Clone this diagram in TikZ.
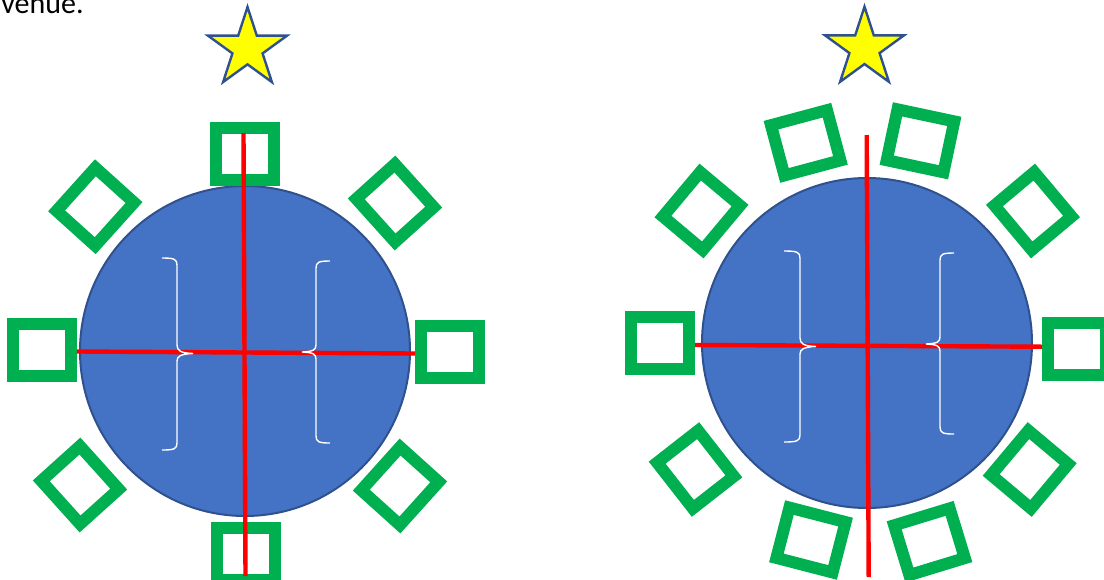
\documentclass[tikz,border=0pt]{standalone}
\usepackage{fontspec}
\setmainfont{Carlito}
\usetikzlibrary{shapes.geometric}

\definecolor{seatgreen}{HTML}{00B050}
\definecolor{tableblue}{HTML}{4472C4}
\definecolor{tableedge}{HTML}{2F528F}
\definecolor{staryellow}{HTML}{FFFF00}

\tikzstyle{seat} = [rectangle, draw=seatgreen, line width=6pt, minimum width=29pt, minimum height=26pt, inner sep=0pt]
\tikzstyle{table} = [circle, fill=tableblue, draw=tableedge, line width=1pt, minimum size=165pt, inner sep=0pt]
\tikzstyle{goal} = [star, star points=5, star point ratio=2.618, minimum size=41.5pt, inner sep=0pt, fill=staryellow, draw=tableedge, line width=1.2pt]
\tikzstyle{axis} = [draw=red, line width=2.2pt]
\tikzstyle{bracket} = [draw=white, line width=0.7pt]

\begin{document}
\begin{tikzpicture}[x=0.5pt, y=-0.5pt]
\useasboundingbox (0,0) rectangle (1104,579);

\node[anchor=base west, inner xsep=0pt, font=\fontsize{15}{18}\selectfont] (note) at (1,13) {venue.};

% eight seats
\node[table] (lefttable) at (245,351) {};
\node[goal] (leftstar) at (247.5,48.5) {};
\node[seat] (l1) at (244.5,153.5) {};
\node[seat, rotate=-48] (l2) at (395,203) {};
\node[seat] (l3) at (450,352) {};
\node[seat, rotate=48] (l4) at (400,486) {};
\node[seat] (l5) at (246,553.5) {};
\node[seat, rotate=-48] (l6) at (80,485) {};
\node[seat] (l7) at (42,349.5) {};
\node[seat, rotate=48] (l8) at (95.3,206.7) {};

\coordinate (lt) at (243.5,133);
\coordinate (lb) at (245.5,576);
\coordinate (ll) at (77,351.5);
\coordinate (lr) at (415,353.5);
\draw[axis] (lt) -- (lb);
\draw[axis] (ll) -- (lr);

\draw[bracket] (162,258) .. controls (174,258) and (177,259) .. (177,265) -- (177,345)
    .. controls (177,351) and (181,353) .. (193,353.5)
    .. controls (181,354) and (177,356) .. (177,361) -- (177,443)
    .. controls (177,449) and (174,450) .. (162,450);
\draw[bracket] (330,261) .. controls (319,261) and (316,262) .. (316,268) -- (316,345)
    .. controls (316,350) and (313,351.5) .. (302,352)
    .. controls (313,352.5) and (316,354) .. (316,359) -- (316,436)
    .. controls (316,442) and (319,443) .. (330,443);

% ten seats
\node[table] (righttable) at (867,343) {};
\node[goal] (rightstar) at (864.5,48.2) {};
\node[seat, rotate=15] (r1) at (805.7,142.8) {};
\node[seat, rotate=-12] (r2) at (920.5,140.8) {};
\node[seat, rotate=-50] (r3) at (1033,211) {};
\node[seat] (r4) at (1077,349) {};
\node[seat, rotate=50] (r5) at (1029.7,469.5) {};
\node[seat, rotate=17] (r6) at (929.5,541.7) {};
\node[seat, rotate=-14.5] (r7) at (811,540) {};
\node[seat, rotate=-52] (r8) at (695.5,469.5) {};
\node[seat] (r9) at (659.7,343) {};
\node[seat, rotate=50] (r10) at (701.5,211) {};

\coordinate (rt) at (866.7,135);
\coordinate (rb) at (868.7,577);
\coordinate (rl) at (695,345);
\coordinate (rr) at (1042,346.7);
\draw[axis] (rt) -- (rb);
\draw[axis] (rl) -- (rr);

\draw[bracket] (784,251) .. controls (797,251) and (800,252) .. (800,258) -- (800,338)
    .. controls (800,344) and (804,346) .. (816,346.5)
    .. controls (804,347) and (800,349) .. (800,354) -- (800,435)
    .. controls (800,441) and (797,442) .. (784,442);
\draw[bracket] (954,253) .. controls (943,253) and (940,254) .. (940,260) -- (940,337)
    .. controls (940,342) and (937,343.5) .. (926,344)
    .. controls (937,344.5) and (940,346) .. (940,351) -- (940,427)
    .. controls (940,433) and (943,434) .. (954,434);
\end{tikzpicture}
\end{document}
